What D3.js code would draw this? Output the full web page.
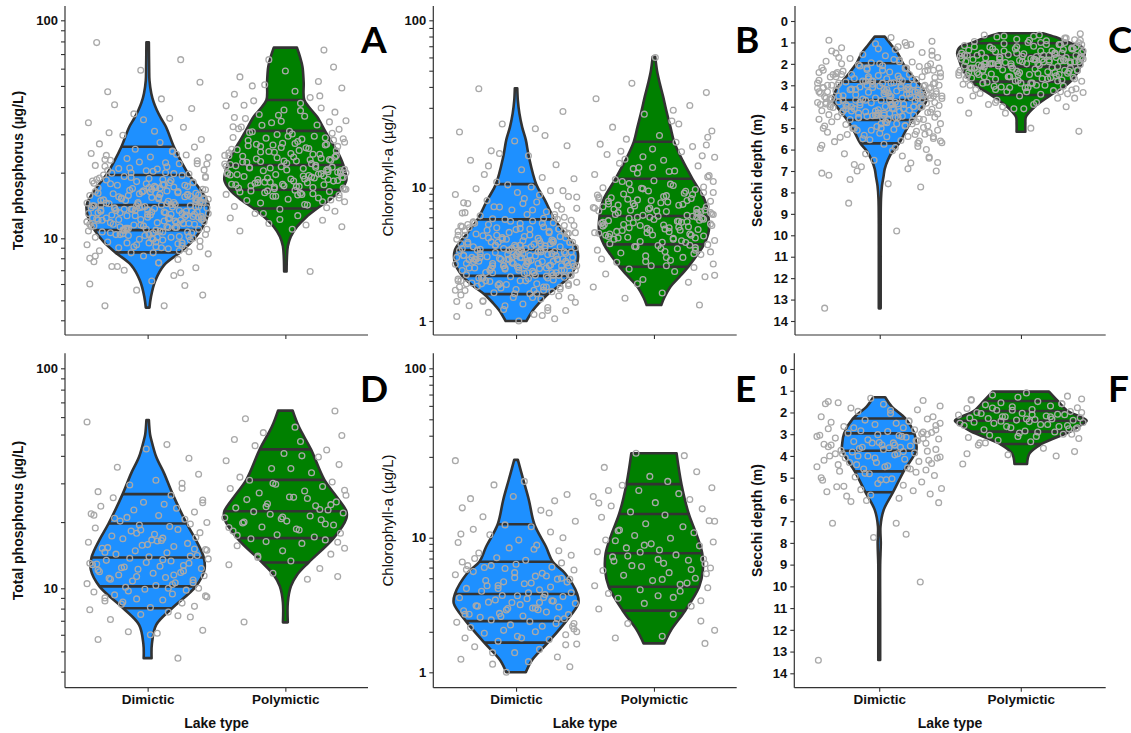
<!DOCTYPE html>
<html><head><meta charset="utf-8">
<script src="https://cdn.jsdelivr.net/npm/d3@7"></script>
<style>body{margin:0;background:#fff}svg{display:block}</style>
</head><body>
<svg id="chart" width="1131" height="733"></svg>
<script>
// ---------------- DATA ----------------
const categories = ["Dimictic", "Polymictic"];
const panelLetters = ["A", "B", "C", "D", "E", "F"];
const logTicks = [1,2,3,4,5,6,7,8,9,10,20,30,40,50,60,70,80,90,100];
const logLabels = [1, 10, 100];
const secchiTicks = [0,1,2,3,4,5,6,7,8,9,10,11,12,13,14];
const titleTP = "Total phosphorus (µg/L)";
const titleChl = "Chlorophyll-a (µg/L)";
const titleSD = "Secchi depth (m)";
const xTitle = "Lake type";

// violin outlines: [value, relative half-width]
const A_dim_prof = [[79.3,.02],[60,.025],[53,.03],[46.2,.06],[42,.1],[38.8,.15],[35.5,.22],[32.5,.30],[26.3,.43],[22.5,.55],[19.5,.68],[17.2,.83],[15.5,.94],[14.2,1.0],[12.6,.98],[10.9,.87],[9.6,.72],[8.54,.53],[7.41,.27],[6.22,.125],[5.21,.055],[4.61,.03]];
const A_poly_prof = [[74.9,.19],[68,.24],[61.3,.28],[52,.30],[43.1,.31],[39,.42],[36.1,.52],[31.1,.65],[27.5,.76],[25.4,.84],[21.7,.95],[18.5,1.0],[16.7,.91],[15.2,.75],[13.7,.52],[12.5,.34],[11.3,.19],[10.2,.09],[9.15,.04],[8,.025],[6.9,.02]];
const B_dim_prof = [[39.3,.02],[33,.03],[27.8,.055],[23,.1],[19.3,.16],[15.3,.21],[10.5,.33],[8.09,.47],[5.79,.63],[4.55,.8],[3.41,1.0],[2.71,1.0],[2.18,.88],[1.86,.72],[1.59,.52],[1.37,.38],[1.21,.28],[1.0,.17]];
const B_poly_prof = [[60.6,.02],[50,.05],[42,.095],[35,.15],[29.1,.2],[23,.27],[18.8,.33],[14.5,.47],[11.3,.63],[8.09,.83],[6.14,.89],[4.82,.9],[3.76,.82],[3.1,.7],[2.55,.56],[2.15,.42],[1.81,.27],[1.5,.17],[1.32,.12]];
const C_dim_prof = [[0.73,.08],[1.1,.18],[1.51,.29],[1.97,.37],[2.4,.48],[2.83,.6],[3.1,.68],[3.37,.72],[3.69,.75],[4.1,.66],[4.62,.52],[5.15,.41],[5.71,.31],[6.1,.2],[6.49,.13],[6.9,.08],[7.27,.06],[7.7,.035],[8.3,.02],[9.5,.015],[11,.015],[12.5,.015],[13.41,.015]];
const C_poly_prof = [[0.57,.35],[0.75,.55],[0.89,.67],[1.04,.8],[1.2,.97],[1.51,1.02],[1.8,.99],[2.13,.95],[2.6,.86],[2.83,.79],[3.07,.69],[3.3,.56],[3.53,.44],[4.0,.22],[4.47,.08],[4.8,.07],[5.17,.07]];
const D_dim_prof = [[58.2,.02],[50,.04],[47.3,.06],[39.6,.14],[33.3,.27],[26.8,.41],[19.7,.64],[16.6,.79],[13.8,.92],[12.1,.93],[10.2,.79],[8.03,.4],[6.69,.14],[5.43,.07],[4.64,.065]];
const D_poly_prof = [[64.2,.12],[54.3,.22],[42.8,.42],[31.1,.64],[26.1,.84],[22.4,1.0],[20.8,1.0],[16.9,.79],[13.1,.38],[11.5,.19],[10.2,.09],[8.55,.04],[6.88,.04]];
const E_dim_prof = [[28.8,.03],[21.9,.12],[16.7,.21],[12.0,.3],[8.57,.49],[6.63,.6],[5.44,.8],[3.82,1.0],[3.26,1.02],[2.4,.82],[1.66,.52],[1.23,.26],[1.0,.16]];
const E_poly_prof = [[31.5,.37],[20.7,.45],[13.8,.57],[10.6,.69],[7.66,.79],[5.75,.8],[4.32,.74],[2.87,.51],[2.06,.28],[1.64,.17]];
const F_dim_prof = [[1.30,.095],[1.73,.2],[2.28,.42],[2.96,.56],[3.42,.59],[3.76,.59],[4.71,.39],[5.67,.22],[6.49,.07],[7.25,.02],[8.02,.025],[9,.015],[11,.015],[13.39,.015]];
const F_poly_prof = [[1.04,.45],[1.47,.59],[1.93,.75],[2.2,.95],[2.38,1.05],[2.6,.95],[2.88,.79],[3.45,.33],[3.88,.14],[4.37,.1]];

// quantile lines
const A_dim_q = [26.3,19.5,14.2,10.9,8.54];
const A_poly_q = [43.1,31.1,21.7,16.7,13.7];
const B_dim_q = [10.5,5.79,3.41,2.18,1.59];
const B_poly_q = [18.8,11.3,6.14,3.76,2.55];
const C_dim_q = [1.97,2.83,3.69,4.62,5.71];
const C_poly_q = [1.04,1.59,2.13,2.83,3.45];
const D_dim_q = [26.8,19.7,13.8,10.2,8.03];
const D_poly_q = [42.8,31.1,22.4,16.9,13.1];
const E_dim_q = [12.0,6.63,3.82,2.40,1.66];
const E_poly_q = [20.7,13.8,7.66,4.32,2.87];
const F_dim_q = [2.28,2.96,3.76,4.71,5.67];
const F_poly_q = [1.47,1.93,2.38,2.88,3.45];

// jitter offsets (percent of category step)
const topDimJit = [-31,12,40,-8,27,-42,3,19,-17,35,-26,8,-39,22,-3,44,-12,30,-35,15,-21,6,38,-44,1,25,-29,11,-6,33,-38,17,-14,42,-23,4,29,-33,9,-18,37,-1,21,-41,14,-10,34,-27,7,41,-36,24,-5,16,-30,39,-15,2,28,-43,13,-20,36,-9,23,-34,5,43,-24,18,-2,31,-40,10,-16,26,-37,0,32,-11,20,-28,38,-7,15,-32,44,-19,3,27,-42,9,-25,35,-4,22,-13,40,-36,6,29,-22,12,-39,33,-8,17,-30,1,42,-17,25,-44,8,37,-3,19,-27,11,-34,30,-12,4,41,-21,14,-38,23,-6,36,-15,2,28,-41,18,-9,34,-26,7,43,-31,21,-1,13,-35,39,-18,5,26,-43,16,-10,32,-24,10,-29,38,-5,24,-37,0,31,-14,20,-40,35,-20,3,27];
const topPolyJit = [18,-33,5,41,-12,27,-40,9,-22,36,-4,30,-37,14,-18,43,-28,2,24,-9,39,-43,11,-15,32,-25,7,44,-34,20,-1,28,-39,16,-11,35,-20,4,42,-30,13,-7,26,-42,38,-16,1,31,-26,22,-36,10,-13,40,-3,19,-31,33,-21,6,-44,25,-8,37,-35,15,-18,29,-2,43,-27,12,-38,21,-6,34,-24,8,-41,17,30,-14,3,39,-32,23,-10,44,-29,14,-19,36,-1,26,-43,11,-23,32,-5,18,-37,7,41,-15,24,-33,0,35,-12,28,-40,20,-8,42,-26,9,-17,31,-3,38];
const botDimJit = [22,-36,7,-14,40,-27,31,-5,15,-42,2,34,-19,25,-31,11,-8,43,-24,18,-39,28,-2,37,-16,6,-44,20,-11,33,-28,13,41,-21,4,-35,26,-7,39,-17,9,-40,30,-1,17,-30,44,-13,24,-37,1,36,-23,14,-9,42,-33,19,-4,29,-43,10,-18,35,-26,5,38,-12,22,-38,16,-6,31,-29,3,43,-20,27,-15,8,-41,34,-10,21,-34,12,-3,40,-25,17,-36,25,-13,6,37,-22,30,-1,14,-44,19,-31,42,-8,26,-18,0,33,-39,11];
const botPolyJit = [-30,16,38,-9,25,-41,4,-20,33,-2,43,-35,12,-14,29,-25,21,-6,40,-38,8,-17,35,-31,1,26,-44,18,-11,42,-23,10,-3,31,-36,22,-13,37,-28,6,44,-19,14,-40,27,-7,34,-26,3,-33,19,-10,39,-43,24,-1,30,-22,11,-37,41,-16,7,-29,36];

// point values
const A_dim_pts = [4.7,4.7,5.3,5.6,5.9,6.0,6.2,6.6,7.0,7.2,7.3,7.6,7.7,7.9,8.2,8.4,
8.5,8.6,8.7,8.9,9.0,9.1,9.1,9.3,9.5,9.5,9.6,9.8,9.9,10.0,10.1,10.1,10.3,10.4,10.4,10.6,10.7,10.7,10.8,10.9,
11.0,11.0,11.2,11.3,11.3,11.5,11.6,11.8,11.8,11.9,12.1,12.1,12.2,12.4,12.4,12.6,12.7,12.8,12.8,13.0,13.1,13.1,13.2,13.4,13.4,13.5,13.7,13.8,13.8,13.9,14.0,14.1,14.1,14.2,11.1,11.7,12.3,12.9,13.3,13.6,
14.3,14.4,14.6,14.6,14.8,15.0,15.1,15.3,15.4,15.5,15.7,15.9,16.0,16.1,16.3,16.4,16.6,16.8,17.0,17.1,17.3,17.5,17.6,17.9,18.0,18.2,18.4,18.5,18.8,19.0,19.2,19.4,14.5,15.2,15.8,16.5,17.2,17.8,18.6,14.9,
19.7,20.0,20.3,20.6,20.9,21.3,21.6,22.0,22.4,22.7,23.2,23.6,24.1,24.5,25.0,25.6,26.2,19.9,20.8,21.9,23.0,24.3,20.4,22.2,
27.1,28.4,29.7,31.0,32.3,33.9,35.5,37.2,39.4,41.0,43.6,47.0,52.0,59.0,66.0,79.0];
const A_dim_more = [12.5,9.8,15.7,11.2,18.3,13.9,10.4,16.8,8.9,21.4,12.0,14.6,9.3,17.5,11.6,13.2,19.8,10.9,15.1,12.8,
7.6,14.1,16.2,11.4,23.5,13.6,10.2,18.9,12.3,15.5,9.6,14.8,11.9,17.1,13.0,20.5,10.7,16.0,12.6,8.2,
14.3,11.1,19.2,13.4,9.9,15.9,12.1,27.5,10.5,14.0,17.8,11.8,13.8,16.5,9.1,12.9,22.8,10.1,15.3,13.1,
6.8,11.5,18.0,14.5,12.2,9.5,16.3,13.3,10.8,20.0,11.3,15.0,12.7,8.7,14.2,17.3,11.0,13.7,25.1,10.3,
15.6,12.4,9.0,14.9,11.7,18.6,13.5,10.6,16.9,12.0,30.5,9.7,14.4,11.2,19.5,13.0,15.2,10.0,12.6,8.0,
17.0,11.6,14.7,13.9,9.4,21.0,12.3,16.1,10.9,15.8,7.3,13.2,11.4,18.1,14.1,12.9,24.0,10.4,16.7,13.6,
9.2,11.9,15.4,12.5,35.0,14.6,10.6,17.6,13.3,11.7,19.0,8.5,15.1,12.2,14.4,16.4,10.2,13.8,22.0,11.1];
const A_poly_pts = [6.9,10.8,11.0,11.3,11.7,12.1,12.4,12.7,13.0,13.3,13.6,
13.8,14.0,14.3,14.5,14.7,14.9,15.1,15.3,15.6,15.8,15.9,16.1,16.2,16.4,16.5,16.6,
16.8,17.0,17.1,17.4,17.6,17.7,18.0,18.1,18.3,18.6,18.7,19.0,19.2,19.3,19.6,19.8,20.0,20.1,20.4,20.6,20.7,21.0,21.2,21.5,17.3,18.9,19.9,21.3,
22.0,22.4,22.8,23.1,23.6,24.0,24.3,24.8,25.2,25.5,26.0,26.4,26.8,27.3,27.6,28.1,28.5,29.0,29.4,29.9,30.3,30.8,22.6,23.9,25.8,27.0,28.8,31.0,
31.6,32.4,33.1,33.9,34.6,35.4,36.3,37.0,37.9,38.8,39.6,40.5,41.6,42.7,34.2,36.7,
44.2,45.8,47.3,48.9,50.6,52.4,55.0,58.5,61.0,66.0,73.0];
const A_poly_more = [19.5,24.3,17.2,28.6,21.1,15.8,33.0,20.2,26.1,18.4,22.9,16.3,30.1,19.0,25.0,14.7,21.8,27.8,17.9,23.6,
12.2,20.6,35.8,18.7,24.9,16.8,22.3,29.4,19.7,26.8,15.3,21.4,38.5,18.1,23.0,17.4,27.2,20.0,31.8,16.0,
22.6,19.3,25.6,14.2,21.0,28.2,18.0,24.5,17.0,40.8,20.9,15.6,23.3,19.8,26.4,13.0,22.1,18.6,30.6,21.6,
17.6,25.3,16.5,20.4,34.4,19.1,23.8,15.0,27.0,18.3,21.9,45.0,16.9,24.0,19.6,11.5,22.5,28.9,17.7,20.7,
26.6,15.9,32.5,18.9,23.4,21.2,50.0,17.3,24.7,19.4];
const B_dim_pts = [1.0,1.04,1.08,1.12,1.16,1.2,1.22,1.26,1.3,1.34,1.38,1.42,1.46,1.5,1.54,1.57,
1.6,1.63,1.66,1.69,1.72,1.74,1.77,1.8,1.82,1.85,1.88,1.9,1.93,1.95,1.98,2.0,2.03,2.06,2.08,2.11,2.13,2.15,2.17,1.86,
2.2,2.22,2.27,2.3,2.31,2.36,2.39,2.4,2.45,2.48,2.5,2.55,2.57,2.6,2.63,2.66,2.7,2.72,2.75,2.79,2.81,2.85,2.88,2.9,2.95,2.98,3.0,3.03,3.08,3.1,3.15,3.17,3.22,3.26,3.3,3.32,3.38,3.4,2.61,2.93,
3.45,3.5,3.55,3.6,3.66,3.7,3.77,3.8,3.88,3.92,4.0,4.05,4.1,4.18,4.22,4.3,4.36,4.42,4.5,4.55,4.62,4.7,4.76,4.85,4.9,5.0,5.07,5.15,5.2,5.3,5.38,5.45,5.55,5.62,5.7,5.78,3.9,4.4,4.95,5.4,
5.85,6.0,6.15,6.3,6.45,6.6,6.8,7.0,7.15,7.35,7.6,7.8,8.0,8.3,8.6,8.9,9.2,9.5,9.8,10.1,10.4,6.9,7.7,8.8,
10.8,11.3,12.0,12.8,13.7,14.6,15.5,16.6,17.8,19.0,20.5,21.5,22.5,24.0,28.5,39.0];
const B_dim_more = [2.6,3.9,1.9,4.6,2.9,3.3,5.4,2.2,3.7,2.5,6.3,3.0,1.7,4.2,2.8,3.5,2.1,5.0,3.2,2.4,
1.4,3.8,2.7,4.9,2.0,3.1,7.2,2.3,4.4,3.6,1.8,2.9,5.9,3.4,2.6,4.1,1.6,3.0,8.5,2.4,
3.7,2.2,4.7,2.8,1.9,3.3,5.6,2.5,3.9,1.5,2.7,4.3,3.1,2.0,6.8,3.5,2.6,1.3,4.0,2.9,
3.2,5.2,2.3,3.8,1.7,2.8,4.5,3.0,11.5,2.1,3.6,2.5,5.8,1.9,3.4,2.7,4.8,2.2,3.1,1.2,
2.9,4.2,3.7,2.4,6.0,1.8,3.3,2.6,9.5,3.0,2.0,4.6,2.8,3.5,1.6,2.3,5.3,3.9,2.5,7.6,
3.2,1.4,2.7,4.1,3.6,2.1,4.9,2.9,1.9,3.4,2.6,6.5,3.1,2.2,4.4,1.7,3.8,2.4,13.5,3.0,
2.8,5.5,1.5,3.3,2.5,4.0,2.0,3.7,1.1,2.7,4.7,3.2,2.3,5.1,1.8,3.5,2.6,16.0,2.9,3.9];
const B_poly_pts = [1.32,1.48,1.62,1.8,1.95,2.05,2.15,2.25,2.35,2.45,2.52,
2.6,2.68,2.76,2.85,2.92,3.0,3.08,3.15,3.24,3.32,3.4,3.48,3.55,3.62,3.68,3.74,
3.8,3.88,3.95,4.02,4.1,4.18,4.25,4.34,4.42,4.5,4.6,4.68,4.78,4.86,4.95,5.05,5.15,5.25,5.35,5.45,5.56,5.66,5.78,5.9,6.0,6.1,4.55,5.5,
6.2,6.35,6.5,6.62,6.78,6.9,7.05,7.2,7.38,7.55,7.72,7.9,8.1,8.3,8.5,8.72,8.95,9.2,9.45,9.7,10.0,10.3,10.6,10.9,11.2,6.7,8.0,9.9,
11.6,12.0,12.5,13.0,13.5,14.0,14.6,15.2,15.8,16.4,17.0,17.6,18.2,18.7,13.2,15.5,
19.5,20.5,21.8,23.0,25.0,27.5,31.0,34.0,37.0,42.0,60.0];
const B_poly_more = [6.5,4.2,9.1,5.3,7.8,3.6,11.8,6.0,4.8,8.4,5.7,14.8,3.9,7.1,5.1,9.8,6.8,4.4,12.6,5.9,
3.2,8.0,6.3,4.7,10.5,5.4,7.5,2.8,6.6,16.5,4.9,8.8,5.6,3.4,7.3,6.1,20.0,4.5,9.4,5.2,
2.2,6.9,4.1,8.2,5.8,13.2,3.7,7.0,5.0,10.9,6.4,4.6,24.0,5.5,8.6,3.3,7.6,6.2,4.3,11.0,
5.9,1.9,8.9,6.7,4.0,15.3,5.2,7.4,3.0,9.6,6.0,4.8,18.0,5.6,7.9,3.5,6.5,12.2,4.4,8.3,
2.6,5.3,10.1,6.9,4.2,7.2,29.0,5.0,9.2,6.3];
const C_dim_pts = [0.77,0.95,1.06,1.14,1.25,1.33,1.4,1.47,1.56,1.62,1.7,1.75,1.82,1.88,1.91,1.95,
2.0,2.04,2.09,2.12,2.18,2.2,2.26,2.3,2.34,2.38,2.43,2.46,2.5,2.54,2.57,2.61,2.64,2.68,2.7,2.73,2.77,2.79,2.81,2.35,
2.85,2.88,2.9,2.93,2.95,2.98,3.0,3.03,3.05,3.08,3.1,3.12,3.15,3.17,3.2,3.22,3.25,3.27,3.29,3.32,3.34,3.37,3.39,3.41,3.44,3.47,3.49,3.52,3.54,3.57,3.59,3.62,3.64,3.66,3.68,3.01,3.21,3.36,3.5,3.14,
3.71,3.73,3.77,3.79,3.82,3.84,3.87,3.89,3.92,3.94,3.97,3.99,4.02,4.04,4.07,4.09,4.12,4.14,4.17,4.19,4.22,4.24,4.27,4.29,4.32,4.34,4.37,4.39,4.42,4.44,4.47,4.49,4.52,4.54,4.57,4.59,3.86,4.0,4.26,4.45,
4.65,4.7,4.75,4.79,4.83,4.88,4.92,4.97,5.01,5.06,5.1,5.15,5.19,5.24,5.28,5.33,5.39,5.43,5.48,5.54,5.58,5.63,5.68,5.02,
5.75,5.86,5.95,6.06,6.2,6.35,6.5,6.63,6.8,7.0,7.2,7.6,7.75,8.5,9.8,13.4];
const C_dim_more = [3.4,2.6,4.1,3.0,4.8,2.2,3.7,5.3,2.9,3.9,1.6,4.4,3.2,2.5,5.9,3.6,4.0,2.8,3.3,6.6,
4.6,1.9,3.8,2.7,5.1,3.1,4.3,2.3,3.5,7.1,4.9,3.0,2.1,4.2,3.7,5.6,2.6,3.4,1.3,4.5,
3.9,2.9,5.0,3.2,4.7,2.4,3.6,6.2,3.0,4.1,1.8,3.5,5.4,2.8,4.0,3.3,2.0,4.6,3.8,6.9,
3.1,5.2,2.5,4.3,3.6,1.5,4.8,3.4,2.7,5.7,3.9,4.4,2.2,3.2,6.4,3.7,2.9,4.9,1.1,4.2,
3.5,5.5,2.6,4.0,3.1,7.4,4.6,2.3,3.8,5.0,3.3,1.7,4.5,2.8,6.0,3.6,4.1,2.1,3.0,5.3,
4.7,3.4,2.5,3.9,6.7,1.4,4.3,3.2,5.8,2.7,3.7,4.9,2.0,3.5,5.1,0.9,4.0,3.1,6.3,2.4,
3.8,4.5,2.9,5.6,3.3,1.2,4.2,3.6,2.2,4.8,3.0,5.4,2.6,3.9,1.0,4.4,3.5,2.3,4.1,7.0];
const C_poly_pts = [0.6,0.65,0.71,0.75,0.8,0.85,0.88,0.92,0.96,1.0,1.02,
1.06,1.1,1.14,1.18,1.22,1.26,1.3,1.33,1.37,1.4,1.44,1.47,1.5,1.53,1.56,1.58,
1.61,1.63,1.66,1.68,1.7,1.72,1.75,1.77,1.8,1.82,1.84,1.87,1.89,1.91,1.94,1.96,1.98,2.0,2.03,2.05,2.07,2.1,2.12,1.78,1.9,2.01,1.65,1.85,
2.15,2.18,2.21,2.24,2.28,2.31,2.34,2.37,2.4,2.44,2.47,2.5,2.53,2.56,2.6,2.63,2.66,2.69,2.72,2.75,2.78,2.81,2.3,2.45,2.55,2.65,2.2,2.35,
2.86,2.9,2.95,3.0,3.04,3.08,3.12,3.16,3.2,3.25,3.3,3.34,3.38,3.42,3.05,3.22,
3.5,3.6,3.7,3.8,3.9,4.0,4.1,4.2,4.3,5.0,5.15];
const C_poly_more = [1.7,2.4,1.2,2.9,1.9,1.4,3.3,2.1,1.6,2.6,0.9,2.0,1.8,3.7,2.3,1.5,2.7,1.1,2.2,3.1,
1.9,0.7,2.5,1.6,3.9,2.0,1.3,2.8,1.8,2.4,1.0,3.2,1.7,2.1,4.1,1.5,2.6,1.2,2.3,3.0,
1.8,0.8,2.0,2.9,1.4,3.5,1.9,2.4,1.1,2.7,1.6,4.3,2.2,1.3,3.3,1.7,2.5,0.65,2.0,2.8,
1.5,3.6,2.1,1.9,1.0,2.6,1.4,3.0,1.8,4.0,2.3,1.2,2.7,1.6,3.4,2.0,0.9,2.4,1.7,3.1,
1.3,2.2,1.8,3.8,1.5,2.5,1.1,2.9,2.0,1.6];
const D_dim_pts = [4.64,5.7,6.1,6.2,6.3,7.1,7.3,7.5,7.7,7.9,
8.1,8.2,8.4,8.5,8.7,8.8,8.9,9.1,9.3,9.4,9.6,9.8,9.9,10.0,10.1,
10.3,10.5,10.6,10.8,10.9,11.1,11.2,11.4,11.5,11.7,11.9,12.0,12.2,12.3,12.5,12.6,12.8,13.0,13.1,13.3,13.4,13.6,13.7,11.8,12.9,
13.9,14.1,14.3,14.5,14.8,15.0,15.2,15.5,15.7,16.0,16.2,16.5,16.8,17.0,17.3,17.6,17.9,18.2,18.5,18.8,19.1,19.4,19.6,15.3,16.6,
19.9,20.2,20.6,21.0,21.4,21.8,22.2,22.7,23.1,23.6,24.1,24.6,25.2,25.8,26.5,
27.5,28.5,29.5,31.0,33.0,35.5,39.0,43.0,45.0,57.0];
const D_dim_more = [11.5,14.6,9.2,17.8,12.7,8.6,15.8,10.6,21.5,13.5,7.4,12.1,16.4,9.7,24.5,11.0,14.0,18.4,10.0,13.0,6.0,15.1,12.4,30.0,9.0,16.9,11.3,14.9,20.8,10.4];
const D_poly_pts = [6.9,11.0,11.3,11.7,12.3,12.8,
13.3,13.8,14.3,14.8,15.2,15.6,16.0,16.3,16.6,16.8,
17.1,17.5,17.8,18.2,18.6,19.0,19.4,19.8,20.2,20.5,20.9,21.3,21.7,22.0,22.3,18.4,20.7,
22.7,23.2,23.7,24.2,24.7,25.3,25.9,26.5,27.1,27.7,28.4,29.0,29.7,30.4,31.0,26.0,
32.0,33.5,35.0,36.5,38.0,39.5,41.0,42.5,44.5,46.5,
47.5,49.5,51.0,54.0,59.0,64.0];
const D_poly_more = [20.0,25.6,16.2,30.0,22.8,18.9,35.0,14.0,24.0,21.1,27.9,17.4,40.0,23.5,19.6];
const E_dim_pts = [1.0,1.1,1.15,1.2,1.25,1.3,1.4,1.48,1.55,1.62,
1.7,1.75,1.8,1.85,1.9,1.95,2.0,2.05,2.1,2.15,2.2,2.25,2.3,2.35,2.38,
2.45,2.5,2.56,2.62,2.68,2.74,2.8,2.86,2.92,2.98,3.05,3.12,3.18,3.25,3.32,3.38,3.45,3.52,3.58,3.65,3.72,3.78,2.7,3.0,3.3,
3.9,4.0,4.1,4.2,4.3,4.42,4.55,4.68,4.8,4.92,5.05,5.18,5.3,5.45,5.6,5.75,5.9,6.05,6.2,6.35,6.5,6.6,4.6,5.2,5.8,
6.8,7.1,7.4,7.7,8.0,8.4,8.8,9.2,9.6,10.0,10.4,10.8,11.2,11.6,11.9,
12.5,13.3,14.5,15.0,16.5,17.5,18.0,20.5,21.5,28.5];
const E_dim_more = [3.6,2.6,5.0,3.1,8.2,2.2,4.4,1.8,6.2,3.4,2.9,4.9,1.4,3.9,10.5,2.5,5.5,3.3,7.0,2.0,4.2,14.0,2.7,3.7,1.6,6.0,3.0,4.7,2.3,17.0];
const E_poly_pts = [1.64,1.8,1.85,2.05,2.3,2.7,
2.95,3.1,3.25,3.4,3.55,3.7,3.85,4.0,4.1,4.25,
4.4,4.6,4.8,5.0,5.25,5.5,5.7,5.95,6.2,6.45,6.7,6.95,7.2,7.45,5.4,6.1,6.8,
7.85,8.1,8.4,8.7,9.0,9.3,9.6,9.9,10.3,10.7,11.1,11.6,12.1,12.6,13.2,13.6,
14.2,14.8,15.4,16.1,16.8,17.5,18.2,19.0,19.7,20.4,
21.5,23.0,24.5,26.0,30.5,31.5];
const E_poly_more = [6.4,9.5,4.9,12.5,7.3,3.6,16.0,5.8,8.8,2.4,11.0,6.9,19.0,4.5,7.8];
const F_dim_pts = [1.35,1.45,1.55,1.62,1.7,1.8,1.88,1.95,2.05,2.2,
2.3,2.35,2.4,2.45,2.5,2.55,2.6,2.65,2.7,2.75,2.8,2.84,2.88,2.92,2.95,
2.98,3.02,3.06,3.1,3.14,3.18,3.22,3.26,3.3,3.34,3.38,3.42,3.46,3.5,3.54,3.58,3.62,3.66,3.7,3.74,3.2,3.4,3.6,3.05,3.5,
3.78,3.82,3.86,3.9,3.95,4.0,4.05,4.1,4.15,4.2,4.25,4.3,4.35,4.4,4.45,4.5,4.55,4.6,4.65,4.7,3.9,4.1,4.3,4.5,4.0,
4.75,4.82,4.9,4.97,5.05,5.12,5.2,5.27,5.35,5.42,5.5,5.55,5.6,5.65,5.1,
5.75,5.85,5.95,6.05,6.15,7.1,7.6,7.75,9.8,13.4];
const F_dim_more = [3.4,2.7,4.2,3.9,5.1,2.2,3.6,4.6,1.6,3.1,5.8,2.9,4.4,3.7,2.5,6.1,3.3,4.0,1.9,5.0,3.0,4.8,2.4,3.5,7.1,4.1,2.8,5.4,3.8,1.5];
const F_poly_pts = [1.1,1.2,1.25,1.3,1.38,1.44,
1.5,1.55,1.6,1.65,1.7,1.74,1.78,1.82,1.86,1.9,
1.96,2.0,2.04,2.08,2.12,2.16,2.2,2.24,2.28,2.32,2.35,2.1,2.25,2.3,2.2,2.36,2.05,
2.42,2.46,2.5,2.55,2.6,2.65,2.7,2.75,2.8,2.85,2.45,2.55,2.65,2.75,2.5,2.9,
2.95,3.0,3.05,3.1,3.15,3.2,3.28,3.35,3.4,3.0,
3.5,3.65,3.8,3.95,4.0,4.37];
const F_poly_more = [2.3,1.8,2.6,3.1,2.0,1.4,2.9,2.4,1.6,3.4,2.2,1.9,2.7,3.9,2.1];

// ---------------- LAYOUT ----------------
const fillColors = ["#1E90FF", "#008000"];
const ink = "#333333";
const FONT = "'Liberation Sans', Arial, sans-serif";

const panels = [
  {letter:"A", x0:65, x1:368, top:6, bottom:335, log:true, yr:[444.3,238.3,20.3], title:titleTP, tx:18.3, bold:true, tsize:14, lx:361, ly:53.3, labels:false,
   prof:[A_dim_prof,A_poly_prof], q:[A_dim_q,A_poly_q], pts:[A_dim_pts.concat(A_dim_more),A_poly_pts.concat(A_poly_more)], jit:[topDimJit,topPolyJit], off:0},
  {letter:"B", x0:433.3, x1:736.7, top:6, bottom:335, log:true, yr:[321,187.7,20.3], title:titleChl, tx:388.3, bold:false, tsize:15, lx:735, ly:53.3, labels:false,
   prof:[B_dim_prof,B_poly_prof], q:[B_dim_q,B_poly_q], pts:[B_dim_pts.concat(B_dim_more),B_poly_pts.concat(B_poly_more)], jit:[topDimJit,topPolyJit], off:57},
  {letter:"C", x0:795, x1:1105.7, top:6, bottom:335, log:false, yr:[21,321], title:titleSD, tx:756.7, bold:true, tsize:14, lx:1108, ly:53.3, labels:false,
   prof:[C_dim_prof,C_poly_prof], q:[C_dim_q,C_poly_q], pts:[C_dim_pts.concat(C_dim_more),C_poly_pts.concat(C_poly_more)], jit:[topDimJit,topPolyJit], off:113},
  {letter:"D", x0:65, x1:368, top:353.3, bottom:687.7, log:true, yr:[797.8,588.3,368.3], title:titleTP, tx:18.3, bold:true, tsize:14, lx:360, ly:401.7, labels:true,
   prof:[D_dim_prof,D_poly_prof], q:[D_dim_q,D_poly_q], pts:[D_dim_pts.concat(D_dim_more),D_poly_pts.concat(D_poly_more)], jit:[botDimJit,botPolyJit], off:0},
  {letter:"E", x0:433.3, x1:736.7, top:353.3, bottom:687.7, log:true, yr:[672.3,537.7,368.3], title:titleChl, tx:388.3, bold:false, tsize:15, lx:735, ly:401.7, labels:true,
   prof:[E_dim_prof,E_poly_prof], q:[E_dim_q,E_poly_q], pts:[E_dim_pts.concat(E_dim_more),E_poly_pts.concat(E_poly_more)], jit:[botDimJit,botPolyJit], off:37},
  {letter:"F", x0:794.3, x1:1105.7, top:353.3, bottom:687.7, log:false, yr:[369,673.3], title:titleSD, tx:756.7, bold:true, tsize:14, lx:1108, ly:401.7, labels:true,
   prof:[F_dim_prof,F_poly_prof], q:[F_dim_q,F_poly_q], pts:[F_dim_pts.concat(F_dim_more),F_poly_pts.concat(F_poly_more)], jit:[botDimJit,botPolyJit], off:71}
];

const svg = d3.select("#chart");

panels.forEach(p => {
  const g = svg.append("g");
  const x = d3.scalePoint().domain(categories).range([p.x0, p.x1]).padding(0.6);
  const step = x.step();
  const y = p.log
    ? d3.scaleLog().domain([1,10,100]).range(p.yr)
    : d3.scaleLinear().domain([0,14]).range(p.yr);
  const hw = 0.443 * step;

  const widthAt = (prof, v) => {
    const yv = y(v);
    for (let i = 0; i < prof.length - 1; i++) {
      const ya = y(prof[i][0]), yb = y(prof[i+1][0]);
      if ((yv - ya) * (yv - yb) <= 0) {
        const t = (yv - ya) / (yb - ya || 1);
        return prof[i][1] + t * (prof[i+1][1] - prof[i][1]);
      }
    }
    return 0;
  };

  categories.forEach((cat, ci) => {
    const cx = x(cat);
    const prof = p.prof[ci];
    const area = d3.area()
      .curve(d3.curveCatmullRom.alpha(0.5))
      .y(d => y(d[0]))
      .x0(d => cx - d[1] * hw)
      .x1(d => cx + d[1] * hw);
    g.append("path").attr("d", area(prof))
      .attr("fill", fillColors[ci]).attr("stroke", ink)
      .attr("stroke-width", 2.6).attr("stroke-linejoin", "round");
    p.q[ci].forEach(v => {
      const w = widthAt(prof, v) * hw;
      g.append("line").attr("x1", cx - w).attr("x2", cx + w)
        .attr("y1", y(v)).attr("y2", y(v))
        .attr("stroke", ink).attr("stroke-width", 2.6);
    });
  });

  categories.forEach((cat, ci) => {
    const cx = x(cat);
    const jit = p.jit[ci];
    const vals = p.pts[ci];
    g.append("g").selectAll("circle").data(vals).join("circle")
      .attr("cx", (d, i) => cx + jit[(i + p.off) % jit.length] / 100 * step)
      .attr("cy", d => y(d))
      .attr("r", 2.9)
      .attr("fill", "none")
      .attr("stroke", "#A9A9A9")
      .attr("stroke-width", 1.3);
  });

  // y axis
  const tickVals = (p.log ? logTicks : secchiTicks).filter(t => y(t) >= p.top - 0.5 && y(t) <= p.bottom + 0.5);
  const yAxis = d3.axisLeft(y).tickValues(tickVals).tickSizeInner(4).tickSizeOuter(0).tickPadding(3)
    .tickFormat(d => p.log ? (logLabels.includes(d) ? String(d) : "") : String(d));
  const ga = g.append("g").attr("transform", `translate(${p.x0},0)`).call(yAxis);
  ga.select(".domain").remove();
  ga.selectAll(".tick line").attr("stroke", ink).attr("stroke-width", 1.1);
  ga.selectAll(".tick text").attr("fill", "#111").attr("font-family", FONT)
    .attr("font-size", 13).attr("font-weight", "bold");
  g.append("line").attr("x1", p.x0).attr("x2", p.x0).attr("y1", p.top).attr("y2", p.bottom)
    .attr("stroke", ink).attr("stroke-width", 1.2);

  // x axis
  const xAxis = d3.axisBottom(x).tickSizeInner(4).tickSizeOuter(0).tickPadding(3)
    .tickFormat(d => p.labels ? d : "");
  const gx = g.append("g").attr("transform", `translate(0,${p.bottom})`).call(xAxis);
  gx.select(".domain").remove();
  gx.selectAll(".tick line").attr("stroke", ink).attr("stroke-width", 1.1);
  gx.selectAll(".tick text").attr("fill", "#111").attr("font-family", FONT)
    .attr("font-size", 13.5).attr("font-weight", "bold");
  g.append("line").attr("x1", p.x0).attr("x2", p.x1).attr("y1", p.bottom).attr("y2", p.bottom)
    .attr("stroke", ink).attr("stroke-width", 1.2);

  if (p.labels) {
    g.append("text").attr("x", (p.x0 + p.x1) / 2).attr("y", p.bottom + 40)
      .attr("text-anchor", "middle").attr("font-family", FONT).attr("font-size", 14)
      .attr("font-weight", "bold").attr("fill", "#111").text(xTitle);
  }

  // y title
  const cy = (p.top + p.bottom) / 2;
  g.append("text").attr("transform", `translate(${p.tx + 5},${cy}) rotate(-90)`)
    .attr("text-anchor", "middle").attr("font-family", FONT).attr("font-size", p.tsize)
    .attr("font-weight", p.bold ? "bold" : "normal").attr("fill", "#111").text(p.title);

  // panel letter
  g.append("text").attr("x", p.lx).attr("y", p.ly)
    .attr("font-family", "Lato, 'Open Sans', sans-serif").attr("font-size", 37)
    .attr("font-weight", "bold").attr("fill", "#000").text(p.letter);
});
</script>
</body></html>
